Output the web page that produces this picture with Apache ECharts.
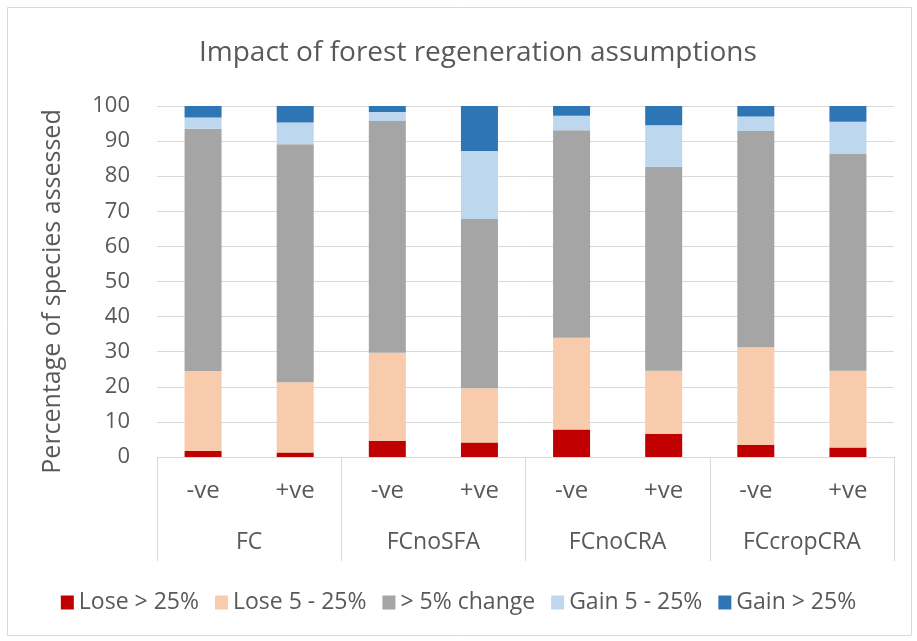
<!DOCTYPE html>
<html>
<head>
<meta charset="utf-8">
<script src="https://cdn.jsdelivr.net/npm/echarts@6/dist/echarts.min.js"></script>
<style>
  html, body { margin: 0; padding: 0; background: #fff; }
  #chart { width: 917px; height: 641px; }
</style>
</head>
<body>
<div id="chart"></div>
<script>
// Inner-level categories (one per bar) and the outer scenario groups
const directions = ['-ve', '+ve', '-ve', '+ve', '-ve', '+ve', '-ve', '+ve'];
const scenarios = ['FC', 'FCnoSFA', 'FCnoCRA', 'FCcropCRA'];
const yTicks = { min: 0, max: 100, interval: 10 };

// Percentage of species in each response class, per bar
const loseOver25 = [1.7, 1.3, 4.6, 4.1, 7.8, 6.6, 3.5, 2.7];
const lose5to25 = [22.8, 20.0, 25.1, 15.5, 26.2, 18.0, 27.8, 21.9];
const under5change = [69.0, 67.8, 66.0, 48.2, 59.1, 58.1, 61.6, 61.7];
const gain5to25 = [3.2, 6.2, 2.6, 19.4, 4.1, 11.8, 4.1, 9.2];
const gainOver25 = [3.3, 4.7, 1.7, 12.8, 2.8, 5.5, 3.0, 4.5];

const seriesNames = ['Lose > 25%', 'Lose 5 - 25%', '> 5% change', 'Gain 5 - 25%', 'Gain > 25%'];
const seriesData = [loseOver25, lose5to25, under5change, gain5to25, gainOver25];
const colors = ['#C00000', '#F8CBAD', '#A5A5A5', '#BDD7EE', '#2E75B6'];

const FONT = '"Open Sans", "Noto Sans", sans-serif';
const TEXT = '#595959';
const LINE = '#D9D9D9';

const chart = echarts.init(document.getElementById('chart'), null, { renderer: 'canvas' });

chart.setOption({
  backgroundColor: '#fff',
  animation: false,
  color: colors,
  title: {
    text: 'Impact of forest regeneration assumptions',
    left: 194,
    top: 34,
    textStyle: { fontFamily: FONT, fontSize: 28, fontWeight: 'normal', color: TEXT }
  },
  legend: {
    bottom: 22,
    left: 'center',
    itemWidth: 13,
    itemHeight: 14,
    itemGap: 16,
    icon: 'rect',
    textStyle: { fontFamily: FONT, fontSize: 23, color: TEXT },
    data: seriesNames
  },
  grid: { left: 157, right: 23, top: 106, bottom: 184, containLabel: false },
  xAxis: [
    {
      type: 'category',
      data: directions,
      position: 'bottom',
      axisLine: { show: true, lineStyle: { color: LINE, width: 1 } },
      axisTick: { show: false },
      axisLabel: { interval: 0, margin: 22, fontFamily: FONT, fontSize: 24, color: TEXT }
    },
    {
      type: 'category',
      data: scenarios,
      position: 'bottom',
      axisLine: { show: false },
      axisTick: { show: true, length: 104, interval: 0, lineStyle: { color: LINE, width: 1 } },
      axisLabel: { interval: 0, margin: 74, fontFamily: FONT, fontSize: 23, color: TEXT }
    }
  ],
  yAxis: {
    type: 'value',
    min: yTicks.min,
    max: yTicks.max,
    interval: yTicks.interval,
    name: 'Percentage of species assessed',
    nameLocation: 'middle',
    nameGap: 92,
    nameTextStyle: { fontFamily: FONT, fontSize: 25, color: TEXT, padding: [0, 20, 0, 0] },
    axisLine: { show: false },
    axisTick: { show: false },
    axisLabel: { fontFamily: FONT, fontSize: 22, color: TEXT, margin: 27 },
    splitLine: { lineStyle: { color: LINE, width: 1 } }
  },
  series: seriesNames.map((name, i) => ({
    name: name,
    type: 'bar',
    stack: 'total',
    xAxisIndex: 0,
    barWidth: 37,
    data: seriesData[i]
  })),
  graphic: [{
    type: 'rect',
    shape: { x: 7.5, y: 7.5, width: 904, height: 628 },
    style: { fill: 'none', stroke: '#D9D9D9', lineWidth: 1 },
    silent: true,
    z: -1
  }]
});
</script>
</body>
</html>
